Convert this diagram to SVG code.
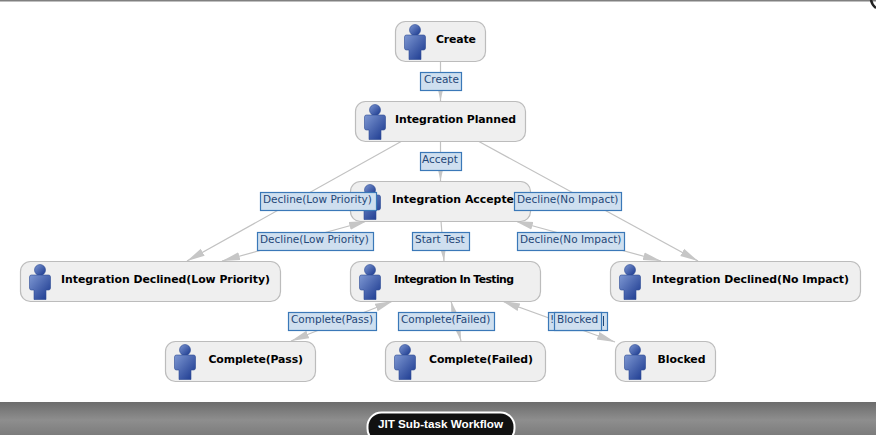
<svg xmlns="http://www.w3.org/2000/svg" xmlns:xlink="http://www.w3.org/1999/xlink" width="876" height="435" viewBox="0 0 876 435">
<style>
.n{fill:#efefef;stroke:#bcbcbc;stroke-width:1.2}
.t{font:bold 10.9px "DejaVu Sans",sans-serif;fill:#000}
.c{fill:none;stroke:#c2c2c2;stroke-width:1.2}
.e{marker-end:url(#a)}
.b{marker-start:url(#a);marker-end:url(#a)}
.l{fill:#cfdfef;stroke:#3a78b8;stroke-width:1.2}
.x{font:10.5px "DejaVu Sans",sans-serif;fill:#1f4778}
</style>
<defs>
<linearGradient id="g" x1="0" y1="0" x2="1" y2="1"><stop offset="0" stop-color="#7d97d2"/><stop offset="1" stop-color="#17358c"/></linearGradient>
<linearGradient id="bar" x1="0" y1="0" x2="0" y2="1"><stop offset="0" stop-color="#6c6c6c"/><stop offset="0.55" stop-color="#8e8e8e"/><stop offset="1" stop-color="#7c7c7c"/></linearGradient>
<marker id="a" markerUnits="userSpaceOnUse" viewBox="0 0 18 10" markerWidth="18" markerHeight="10" refX="18" refY="5" orient="auto-start-reverse"><path d="M0 1L18 5L0 9Z" fill="#c6c6c6"/></marker>
<g id="p">
<circle cx="0" cy="9" r="5.5" fill="url(#g)" stroke="#2c4a94" stroke-width=".6"/>
<path d="M-8.5 14H8.5Q10.5 14 10.5 16V27Q10.5 29 8.5 29H6V38.5H-6V29H-8.5Q-10.5 29 -10.5 27V16Q-10.5 14 -8.5 14Z" fill="url(#g)" stroke="#2c4a94" stroke-width=".6"/>
</g>
</defs>
<rect width="876" height="435" fill="#fff"/>
<rect width="876" height="1.5" fill="#808080"/>
<path d="M871 0Q872 5 876 8" fill="none" stroke="#222" stroke-width="2.5"/>
<rect y="402" width="876" height="33" fill="url(#bar)"/>
<g id="connectors">
<path class="c e" d="M440.5 61V101"/>
<path class="c e" d="M440.5 141V181"/>
<path class="c e" d="M441 221L444 261"/>
<path class="c e" d="M402 141L187 261"/>
<path class="c e" d="M478 141L698 261"/>
<path class="c b" d="M222 261L367 221"/>
<path class="c b" d="M661 261L515 221"/>
<path class="c b" d="M291 341L393 301"/>
<path class="c b" d="M461 341L451 301"/>
<path class="c b" d="M615 342L502 301"/>
</g>
<g id="create"><rect class="n" x="395.500" y="21.500" width="90" height="40" rx="10"/><use href="#p" x="415" y="21"/><text class="t" x="436" y="43" textLength="40" lengthAdjust="spacing">Create</text></g>
<g id="planned"><rect class="n" x="355.500" y="101.500" width="170" height="40" rx="10"/><use href="#p" x="375" y="101"/><text class="t" x="395" y="123" textLength="121" lengthAdjust="spacing">Integration Planned</text></g>
<g id="accepted"><rect class="n" x="350.500" y="181.500" width="180" height="40" rx="10"/><use href="#p" x="370" y="181"/><text class="t" x="392" y="203" textLength="122" lengthAdjust="spacing">Integration Accepte</text></g>
<g id="declined-low"><rect class="n" x="20.500" y="261.500" width="260" height="40" rx="10"/><use href="#p" x="40" y="261"/><text class="t" x="61" y="283" textLength="209" lengthAdjust="spacing">Integration Declined(Low Priority)</text></g>
<g id="testing"><rect class="n" x="350.500" y="261.500" width="190" height="40" rx="10"/><use href="#p" x="370" y="261"/><text class="t" x="394" y="283" textLength="120" lengthAdjust="spacing">Integration In Testing</text></g>
<g id="declined-none"><rect class="n" x="610.500" y="261.500" width="250" height="40" rx="10"/><use href="#p" x="630" y="261"/><text class="t" x="652" y="283" textLength="197" lengthAdjust="spacing">Integration Declined(No Impact)</text></g>
<g id="pass"><rect class="n" x="165.500" y="341.500" width="150" height="40" rx="10"/><use href="#p" x="185" y="341"/><text class="t" x="208.500" y="363" textLength="94.500" lengthAdjust="spacing">Complete(Pass)</text></g>
<g id="failed"><rect class="n" x="385.500" y="341.500" width="160" height="40" rx="10"/><use href="#p" x="405" y="341"/><text class="t" x="429" y="363" textLength="104" lengthAdjust="spacing">Complete(Failed)</text></g>
<g id="blocked"><rect class="n" x="615.500" y="341.500" width="100" height="40" rx="10"/><use href="#p" x="635" y="341"/><text class="t" x="657.500" y="363" textLength="48" lengthAdjust="spacing">Blocked</text></g>
<g id="labels">
<rect class="l" x="420.500" y="72.500" width="41" height="18"/><text class="x" x="424" y="83">Create</text>
<rect class="l" x="420.500" y="152.500" width="41" height="18"/><text class="x" x="422" y="163">Accept</text>
<rect class="l" x="260.500" y="192.500" width="116" height="18"/><text class="x" x="263" y="203">Decline(Low Priority)</text>
<rect class="l" x="514.500" y="192.500" width="107" height="18"/><text class="x" x="517" y="203">Decline(No Impact)</text>
<rect class="l" x="257.500" y="232.500" width="116" height="18"/><text class="x" x="260" y="243">Decline(Low Priority)</text>
<rect class="l" x="412.500" y="232.500" width="57" height="18"/><text class="x" x="415" y="243">Start Test</text>
<rect class="l" x="517.500" y="232.500" width="107" height="18"/><text class="x" x="520" y="243">Decline(No Impact)</text>
<rect class="l" x="288.500" y="312.500" width="88" height="18"/><text class="x" x="291" y="323">Complete(Pass)</text>
<rect class="l" x="398.500" y="312.500" width="96" height="18"/><text class="x" x="401" y="323">Complete(Failed)</text>
<rect class="l" x="548.500" y="312.500" width="59" height="18"/><text class="x" x="550" y="323">!</text><path d="M603.500 316V326" stroke="#1f4778"/>
<rect class="l" x="554.500" y="312.500" width="47" height="18"/><text class="x" x="557" y="323">Blocked</text>
</g>
<g id="tab"><rect x="367.500" y="412.500" width="147" height="30" rx="14" fill="#111" stroke="#fff" stroke-width="2"/><text x="440.500" y="428" text-anchor="middle" font-family="'Liberation Sans',sans-serif" font-weight="bold" font-size="11.700" fill="#fff">JIT Sub-task Workflow</text></g>
</svg>
